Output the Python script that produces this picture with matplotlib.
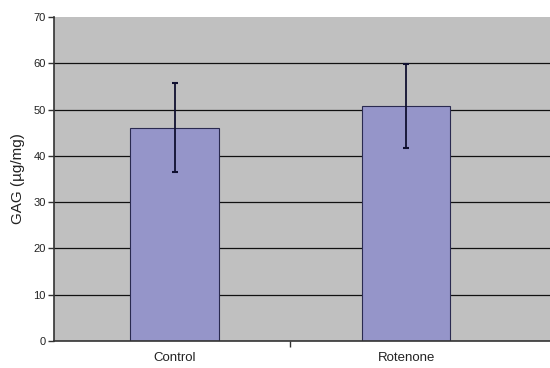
import matplotlib
matplotlib.use("Agg")
import matplotlib.pyplot as plt

categories = ["Control", "Rotenone"]
values = [46.1, 50.8]
errors = [9.6, 9.0]
yticks = [0, 10, 20, 30, 40, 50, 60, 70]

plt.rcParams['font.family'] = ['Liberation Sans', 'DejaVu Sans']

fig = plt.figure(figsize=(5.5, 3.68), dpi=100)
ax = fig.add_axes([54/550, 27/368, 1 - 54/550, 324/368])
ax.set_facecolor('#C0C0C0')

x = list(range(len(categories)))
ax.set_ylim(0, 70)
ax.set_xlim(-0.52, 1.62)
for y in yticks[1:-1]:
    ax.axhline(y, color='#111111', lw=0.9, zorder=1)

ax.bar(x, values, width=0.38, color='#9595C9', edgecolor='#2a2a50', lw=0.8, zorder=2)
ax.errorbar(x, values, yerr=errors, fmt='none', ecolor='#101030', elinewidth=1.3,
            capsize=2.5, capthick=1.5, zorder=3)

ax.set_yticks(yticks)
ax.set_yticklabels([str(v) for v in yticks], fontsize=8, color='#222222')
ax.set_xticks(x)
ax.set_xticklabels(categories, fontsize=9.5, color='#222222')
ax.tick_params(axis='x', length=0, pad=8)
ax.set_xticks([0.5], minor=True)
ax.tick_params(axis='x', which='minor', length=4, width=1, color='#333333', direction='out')
ax.tick_params(axis='y', length=4, width=1, color='#333333', direction='out', pad=2)

for s in ['top', 'right']:
    ax.spines[s].set_visible(False)
ax.spines['left'].set_color('#333333')
ax.spines['bottom'].set_color('#333333')
ax.spines['left'].set_linewidth(1.2)
ax.spines['bottom'].set_linewidth(1.2)

ax.set_ylabel("GAG (µg/mg)", fontsize=11, labelpad=6, color='#222222')

fig.savefig("out.png", dpi=100, facecolor='white')
